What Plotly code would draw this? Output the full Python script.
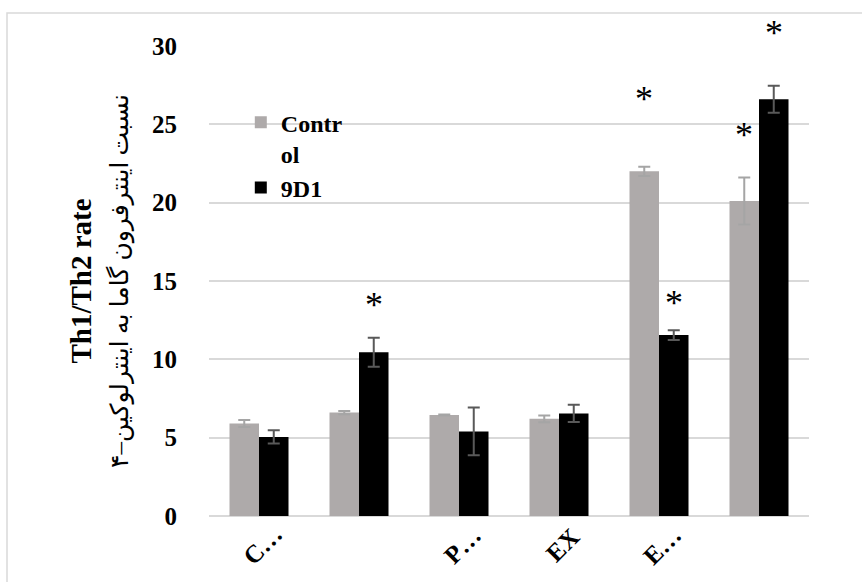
import plotly.graph_objects as go

# Category labels as they appear under the axis
labels = ["C…", "", "P…", "EX", "E…", ""]

# Mean Th1/Th2 ratio and its error for each group
control_vals = [5.9, 6.6, 6.45, 6.2, 22.0, 20.1]
control_err = [0.22, 0.1, 0.03, 0.22, 0.3, 1.5]
d9_vals = [5.05, 10.45, 5.4, 6.55, 11.55, 26.6]
d9_err = [0.43, 0.93, 1.52, 0.55, 0.31, 0.86]

# Height of the significance asterisk (None where not significant)
control_star = [None, None, None, None, 26.6, 24.3]
d9_star = [None, 13.5, None, None, 13.6, 30.8]

GRAY = "#AEAAAA"
FONT = "Liberation Serif, 'Times New Roman', DejaVu Serif, DejaVu Sans"
BARGAP = 0.41
YMAX = 30

x = list(range(len(labels)))

fig = go.Figure()
fig.add_trace(go.Bar(
    x=x, y=control_vals, name="Contr<br>ol",
    marker=dict(color=GRAY, line=dict(width=0)),
    error_y=dict(type="data", array=control_err, visible=True,
                 color="#A5A5A5", thickness=2, width=6),
))
fig.add_trace(go.Bar(
    x=x, y=d9_vals, name="9D1",
    marker=dict(color="#000000", line=dict(width=0)),
    error_y=dict(type="data", array=d9_err, visible=True,
                 color="#595959", thickness=2, width=6),
))

annotations = []

# Asterisks above significant bars, centred on each bar of the pair
# (placed in paper units so the top one may sit above the axis range)
offset = (1 - BARGAP) / 4
for i in x:
    for stars, sign in ((control_star, -1), (d9_star, 1)):
        if stars[i] is not None:
            annotations.append(dict(
                x=i + sign * offset, y=stars[i] / YMAX, xref="x", yref="paper",
                text="*", showarrow=False, yanchor="middle",
                font=dict(family=FONT, size=36, color="#000000"),
            ))

# Slanted category labels under the axis
for i, lab in zip(x, labels):
    if lab:
        annotations.append(dict(
            x=i, y=0, xref="x", yref="paper", text=lab, showarrow=False,
            textangle=-45, xanchor="center", yanchor="middle",
            xshift=3, yshift=-29,
            font=dict(family=FONT, size=25, color="#000000", weight="bold"),
        ))

fig.update_layout(
    width=862, height=582,
    margin=dict(l=209, r=53, t=46, b=66, autoexpand=False),
    paper_bgcolor="white", plot_bgcolor="white",
    barmode="group", bargap=BARGAP, bargroupgap=0,
    font=dict(family=FONT, color="#000000"),
    showlegend=True,
    legend=dict(
        x=0.053, y=0.885, xanchor="left", yanchor="top",
        bgcolor="rgba(0,0,0,0)", valign="top",
        font=dict(family=FONT, size=24, color="#000000", weight="bold"),
        itemwidth=30, tracegroupgap=0,
    ),
    annotations=annotations,
    shapes=[dict(
        type="rect", xref="paper", yref="paper", layer="below",
        x0=(7 - 209) / 600, x1=1.2, y0=-0.3, y1=(516 - 13) / 470,
        line=dict(color="#D9D9D9", width=1.5), fillcolor="rgba(0,0,0,0)",
    )],
)

fig.update_xaxes(
    tickmode="array", tickvals=x, showticklabels=False,
    showgrid=False, zeroline=False, showline=False, ticks="",
    range=[-0.5, len(labels) - 0.5], automargin=False,
)
fig.update_yaxes(
    range=[0, YMAX], dtick=5, tick0=0,
    tickfont=dict(family=FONT, size=25, color="#000000", weight="bold"),
    showgrid=True, gridcolor="#D9D9D9", gridwidth=2,
    zeroline=True, zerolinecolor="#D9D9D9", zerolinewidth=2,
    showline=False, ticks="", ticklabelstandoff=31, automargin=False,
    title=dict(
        text="<b>Th1/Th2 rate</b><br><span style='font-size:25px'>نسبت اینترفرون گاما به اینترلوکین–۴</span>",
        font=dict(family=FONT, size=29, color="#000000"),
        standoff=14,
    ),
)

fig.write_html("out.html")
